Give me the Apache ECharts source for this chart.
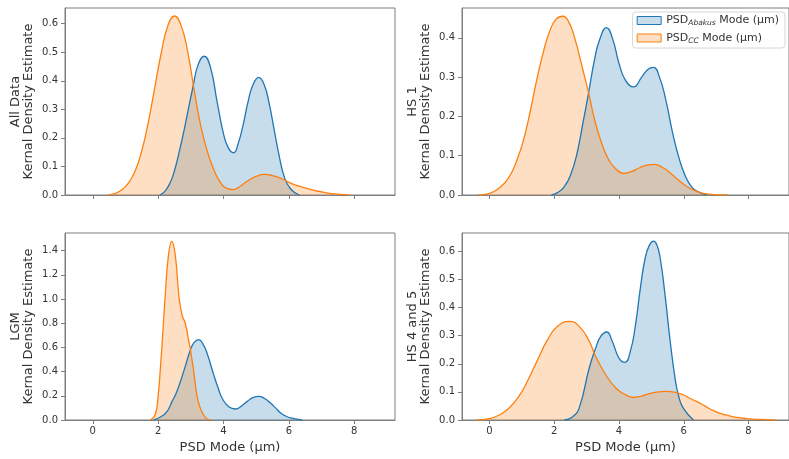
<!DOCTYPE html>
<html>
<head>
<meta charset="utf-8">
<script src="https://cdn.jsdelivr.net/npm/echarts@6/dist/echarts.min.js"></script>
<style>html,body{margin:0;padding:0;background:#fff}#c{width:789px;height:459px}</style>
</head>
<body>
<div id="c"></div>
<script>
// ---- Data ----
const panelTitles = ['All Data', 'HS 1', 'LGM', 'HS 4 and 5'];
const xTicks = [0, 2, 4, 6, 8];
const yTicksAll = [0, 0.1, 0.2, 0.3, 0.4, 0.5, 0.6];
const yTicksHS1 = [0, 0.1, 0.2, 0.3, 0.4];
const yTicksLGM = [0, 0.2, 0.4, 0.6, 0.8, 1.0, 1.2, 1.4];
const yTicksHS45 = [0, 0.1, 0.2, 0.3, 0.4, 0.5, 0.6];
const seriesNames = ['PSD_Abakus Mode (µm)', 'PSD_CC Mode (µm)'];

// All Data
const allAbakusX = [2.05, 2.2, 2.36, 2.5, 2.66, 2.8, 2.92, 3.07, 3.22, 3.41, 3.6, 3.8, 4.0, 4.15, 4.31, 4.45, 4.6, 4.75, 4.9, 5.08, 5.25, 5.4, 5.55, 5.7, 5.86, 6.05, 6.32];
const allAbakusY = [0, 0.012, 0.041, 0.085, 0.158, 0.23, 0.298, 0.38, 0.455, 0.486, 0.448, 0.33, 0.215, 0.165, 0.148, 0.18, 0.245, 0.325, 0.385, 0.412, 0.385, 0.32, 0.23, 0.14, 0.064, 0.022, 0];
const allCCX = [0.48, 0.7, 0.9, 1.1, 1.3, 1.5, 1.7, 1.9, 2.1, 2.3, 2.5, 2.7, 2.9, 3.1, 3.3, 3.5, 3.7, 3.9, 4.1, 4.3, 4.5, 4.75, 5.0, 5.25, 5.5, 5.76, 6.07, 6.4, 6.7, 7.0, 7.3, 7.85];
const allCCY = [0, 0.006, 0.019, 0.043, 0.085, 0.155, 0.255, 0.378, 0.5, 0.594, 0.627, 0.595, 0.505, 0.37, 0.245, 0.155, 0.09, 0.045, 0.023, 0.019, 0.03, 0.05, 0.065, 0.072, 0.068, 0.058, 0.041, 0.028, 0.018, 0.011, 0.005, 0];

// HS 1
const hs1AbakusX = [1.91, 2.1, 2.3, 2.5, 2.7, 2.9, 3.06, 3.24, 3.4, 3.61, 3.8, 4.0, 4.2, 4.45, 4.7, 4.9, 5.06, 5.25, 5.45, 5.65, 5.85, 6.05, 6.25, 6.45, 6.72];
const hs1AbakusY = [0, 0.006, 0.02, 0.05, 0.105, 0.19, 0.26, 0.343, 0.395, 0.426, 0.398, 0.335, 0.292, 0.275, 0.3, 0.32, 0.325, 0.3, 0.24, 0.16, 0.095, 0.048, 0.02, 0.008, 0];
const hs1CCX = [-0.34, 0.0, 0.3, 0.6, 0.85, 1.05, 1.25, 1.45, 1.65, 1.85, 2.05, 2.27, 2.45, 2.63, 2.85, 3.06, 3.25, 3.45, 3.65, 3.86, 4.16, 4.4, 4.65, 4.85, 5.08, 5.35, 5.6, 5.85, 6.11, 6.4, 6.7, 7.34];
const hs1CCY = [0, 0.004, 0.018, 0.045, 0.09, 0.14, 0.21, 0.29, 0.36, 0.415, 0.447, 0.455, 0.44, 0.4, 0.33, 0.26, 0.19, 0.135, 0.095, 0.07, 0.055, 0.06, 0.07, 0.076, 0.078, 0.07, 0.055, 0.037, 0.021, 0.009, 0.003, 0];

// LGM
const lgmAbakusX = [1.86, 2.07, 2.27, 2.42, 2.58, 2.78, 2.99, 3.1, 3.24, 3.37, 3.50, 3.70, 3.83, 3.96, 4.16, 4.37, 4.55, 4.73, 4.9, 5.08, 5.26, 5.44, 5.6, 5.75, 5.9, 6.06, 6.41];
const lgmAbakusY = [0, 0.025, 0.07, 0.15, 0.24, 0.40, 0.58, 0.64, 0.664, 0.63, 0.55, 0.375, 0.27, 0.18, 0.11, 0.091, 0.115, 0.154, 0.185, 0.196, 0.178, 0.14, 0.098, 0.058, 0.033, 0.017, 0];
const lgmCCX = [1.76, 1.91, 2.0, 2.07, 2.15, 2.22, 2.32, 2.42, 2.53, 2.63, 2.73, 2.83, 2.94, 2.99, 3.09, 3.19, 3.29, 3.45, 3.6];
const lgmCCY = [0, 0.044, 0.2, 0.43, 0.75, 1.04, 1.37, 1.477, 1.35, 1.04, 0.87, 0.80, 0.65, 0.58, 0.4, 0.2, 0.1, 0.02, 0];

// HS 4 and 5
const hs45AbakusX = [2.31, 2.55, 2.77, 3.08, 3.28, 3.44, 3.62, 3.79, 4.0, 4.18, 4.35, 4.51, 4.66, 4.81, 4.94, 5.07, 5.17, 5.27, 5.42, 5.58, 5.73, 5.83, 5.98, 6.3];
const hs45AbakusY = [0, 0.01, 0.043, 0.185, 0.256, 0.298, 0.313, 0.28, 0.22, 0.205, 0.244, 0.339, 0.47, 0.577, 0.622, 0.636, 0.622, 0.577, 0.446, 0.28, 0.149, 0.09, 0.043, 0];
const hs45CCX = [-0.39, 0.0, 0.3, 0.6, 0.9, 1.2, 1.5, 1.8, 2.1, 2.47, 2.77, 3.08, 3.28, 3.59, 3.9, 4.2, 4.45, 4.7, 4.91, 5.15, 5.42, 5.65, 5.83, 6.0, 6.14, 6.39, 6.65, 6.9, 7.15, 7.41, 7.65, 7.92, 8.3, 8.84];
const hs45CCY = [0, 0.005, 0.018, 0.042, 0.083, 0.145, 0.218, 0.287, 0.333, 0.351, 0.333, 0.28, 0.226, 0.161, 0.114, 0.09, 0.08, 0.085, 0.093, 0.099, 0.102, 0.1, 0.096, 0.089, 0.08, 0.066, 0.05, 0.034, 0.023, 0.015, 0.009, 0.005, 0.002, 0];

// ---- Build chart ----
const FONT = 'DejaVu Sans';
const SPINE = '#7f7f7f';
const TEXT = '#333';
const BLUE = '#1f77b4', ORANGE = '#ff7f0e';
const X_MIN = -0.85, X_MAX = 9.25;

const panels = [
  {title: panelTitles[0], ticks: yTicksAll, max: 0.655, ax: allAbakusX, ay: allAbakusY, cx: allCCX, cy: allCCY, bottom: false},
  {title: panelTitles[1], ticks: yTicksHS1, max: 0.476, ax: hs1AbakusX, ay: hs1AbakusY, cx: hs1CCX, cy: hs1CCY, bottom: false},
  {title: panelTitles[2], ticks: yTicksLGM, max: 1.546, ax: lgmAbakusX, ay: lgmAbakusY, cx: lgmCCX, cy: lgmCCY, bottom: true},
  {title: panelTitles[3], ticks: yTicksHS45, max: 0.665, ax: hs45AbakusX, ay: hs45AbakusY, cx: hs45CCX, cy: hs45CCY, bottom: true}
];
const gridPos = [
  {left: 65, top: 8},
  {left: 462, top: 8},
  {left: 65, top: 233},
  {left: 462, top: 233}
];

const zip = (xs, ys) => xs.map((x, i) => [x, ys[i]]);

const grids = [], xAxes = [], yAxes = [], series = [];
panels.forEach((p, i) => {
  grids.push({left: gridPos[i].left, top: gridPos[i].top, width: 330, height: 187,
    show: true, borderColor: SPINE, borderWidth: 1, backgroundColor: 'transparent'});
  xAxes.push({
    type: 'value', gridIndex: i, min: X_MIN, max: X_MAX,
    axisLine: {show: true, onZero: false, lineStyle: {color: SPINE, width: 1}},
    axisTick: {show: true, length: 4, customValues: xTicks, lineStyle: {color: SPINE}},
    axisLabel: {show: p.bottom, customValues: xTicks, margin: 6, color: TEXT, fontFamily: FONT, fontSize: 10},
    splitLine: {show: false},
    name: p.bottom ? 'PSD Mode (µm)' : '',
    nameLocation: 'middle', nameGap: 21,
    nameTextStyle: {color: TEXT, fontFamily: FONT, fontSize: 13}
  });
  yAxes.push({
    type: 'value', gridIndex: i, min: 0, max: p.max,
    axisLine: {show: true, onZero: false, lineStyle: {color: SPINE, width: 1}},
    axisTick: {show: true, length: 4, customValues: p.ticks, lineStyle: {color: SPINE}},
    axisLabel: {customValues: p.ticks, margin: 7, color: TEXT, fontFamily: FONT, fontSize: 10,
      formatter: v => Number(v).toFixed(1)},
    splitLine: {show: false},
    name: p.title + '\nKernal Density Estimate',
    nameLocation: 'middle', nameRotate: 90, nameGap: 30,
    nameTextStyle: {color: TEXT, fontFamily: FONT, fontSize: 13, lineHeight: 13, align: 'center'}
  });
  [[p.ax, p.ay, BLUE, 'rgba(31,119,180,0.25)', 0], [p.cx, p.cy, ORANGE, 'rgba(255,127,14,0.25)', 1]].forEach(s => {
    series.push({
      type: 'line', name: seriesNames[s[4]], xAxisIndex: i, yAxisIndex: i,
      data: zip(s[0], s[1]), smooth: 0.5, showSymbol: false, symbol: 'none',
      lineStyle: {color: s[2], width: 1.3},
      areaStyle: {color: s[3], opacity: 1, origin: 'start'},
      itemStyle: {color: s[2]},
      silent: true, animation: false
    });
  });
});

const chart = echarts.init(document.getElementById('c'), null, {renderer: 'canvas'});
chart.setOption({
  animation: false,
  grid: grids, xAxis: xAxes, yAxis: yAxes, series: series,
  legend: {
    orient: 'vertical', right: 4, top: 12,
    itemWidth: 24, itemHeight: 8, itemGap: 5,
    backgroundColor: 'rgba(255,255,255,0.85)', borderColor: '#d6d6d6', borderWidth: 1, borderRadius: 3,
    padding: [3, 6, 3, 4],
    data: [
      {name: seriesNames[0], icon: 'rect', itemStyle: {color: 'rgba(31,119,180,0.25)', borderColor: BLUE, borderWidth: 1}},
      {name: seriesNames[1], icon: 'rect', itemStyle: {color: 'rgba(255,127,14,0.25)', borderColor: ORANGE, borderWidth: 1}}
    ],
    formatter: n => {
      const parts = n.split(' Mode');
      const sub = parts[0].replace('PSD_', '');
      return '{m|PSD}{s|' + sub + '}{m| Mode (µm)}';
    },
    textStyle: {color: TEXT, fontFamily: FONT, fontSize: 11,
      rich: {m: {fontFamily: FONT, fontSize: 11, color: TEXT},
             s: {fontFamily: FONT, fontSize: 7.5, color: TEXT, fontStyle: 'italic', padding: [6, 0, 0, 0]}}}
  }
});
</script>
</body>
</html>
